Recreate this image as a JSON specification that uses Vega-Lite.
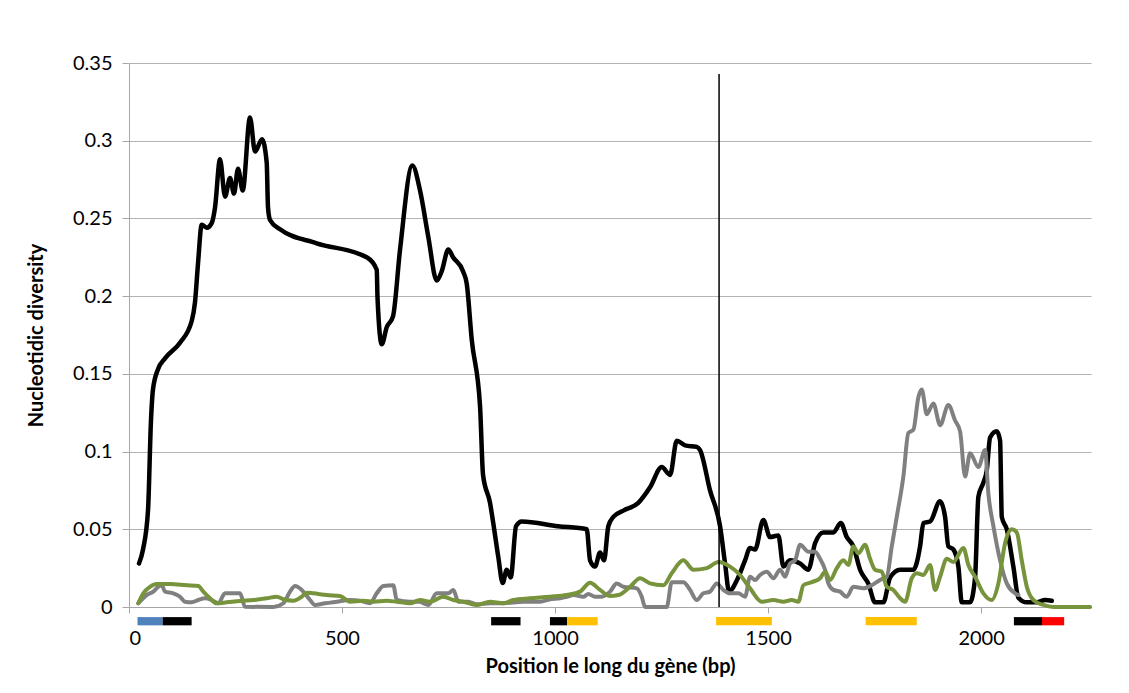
{
  "$schema": "https://vega.github.io/schema/vega-lite/v6.json",
  "width": 962,
  "height": 544,
  "autosize": "none",
  "padding": {"left": 129, "top": 63, "right": 38, "bottom": 86},
  "background": "white",
  "config": {
    "view": {"stroke": null},
    "font": "Lato",
    "axis": {
      "labelFont": "Lato",
      "titleFont": "Lato",
      "labelColor": "#000000",
      "titleColor": "#000000",
      "labelFontSize": 20,
      "titleFontSize": 20,
      "titleFontWeight": "bold",
      "domainColor": "#a6a6a6",
      "tickColor": "#a6a6a6",
      "gridColor": "#b3b3b3"
    }
  },
  "datasets": {
    "curves": [
      {"s": "black", "pos": 23.5, "div": 0.028},
      {"s": "black", "pos": 32.9, "div": 0.037},
      {"s": "black", "pos": 44.6, "div": 0.062},
      {"s": "black", "pos": 51.6, "div": 0.12},
      {"s": "black", "pos": 56.3, "div": 0.14},
      {"s": "black", "pos": 68.1, "div": 0.153},
      {"s": "black", "pos": 84.5, "div": 0.16},
      {"s": "black", "pos": 119.7, "div": 0.17},
      {"s": "black", "pos": 147.2, "div": 0.184},
      {"s": "black", "pos": 154.9, "div": 0.196},
      {"s": "black", "pos": 162.0, "div": 0.221},
      {"s": "black", "pos": 170.7, "div": 0.246},
      {"s": "black", "pos": 182.4, "div": 0.244},
      {"s": "black", "pos": 194.1, "div": 0.247},
      {"s": "black", "pos": 201.9, "div": 0.257},
      {"s": "black", "pos": 213.6, "div": 0.288},
      {"s": "black", "pos": 225.4, "div": 0.264},
      {"s": "black", "pos": 237.1, "div": 0.276},
      {"s": "black", "pos": 246.5, "div": 0.266},
      {"s": "black", "pos": 255.9, "div": 0.282},
      {"s": "black", "pos": 266.9, "div": 0.268},
      {"s": "black", "pos": 284.0, "div": 0.315},
      {"s": "black", "pos": 295.8, "div": 0.293},
      {"s": "black", "pos": 312.2, "div": 0.301},
      {"s": "black", "pos": 323.2, "div": 0.286},
      {"s": "black", "pos": 326.3, "div": 0.257},
      {"s": "black", "pos": 331.0, "div": 0.249},
      {"s": "black", "pos": 354.5, "div": 0.243},
      {"s": "black", "pos": 440.6, "div": 0.234},
      {"s": "black", "pos": 558.0, "div": 0.225},
      {"s": "black", "pos": 581.5, "div": 0.217},
      {"s": "black", "pos": 583.3, "div": 0.199},
      {"s": "black", "pos": 593.2, "div": 0.169},
      {"s": "black", "pos": 604.9, "div": 0.18},
      {"s": "black", "pos": 619.7, "div": 0.187},
      {"s": "black", "pos": 636.2, "div": 0.23},
      {"s": "black", "pos": 665.0, "div": 0.284},
      {"s": "black", "pos": 683.1, "div": 0.268},
      {"s": "black", "pos": 702.6, "div": 0.238},
      {"s": "black", "pos": 722.3, "div": 0.21},
      {"s": "black", "pos": 734.0, "div": 0.216},
      {"s": "black", "pos": 749.5, "div": 0.23},
      {"s": "black", "pos": 760.6, "div": 0.225},
      {"s": "black", "pos": 784.0, "div": 0.216},
      {"s": "black", "pos": 792.7, "div": 0.208},
      {"s": "black", "pos": 804.5, "div": 0.172},
      {"s": "black", "pos": 824.0, "div": 0.129},
      {"s": "black", "pos": 831.0, "div": 0.085},
      {"s": "black", "pos": 847.4, "div": 0.067},
      {"s": "black", "pos": 855.0, "div": 0.054},
      {"s": "black", "pos": 866.9, "div": 0.032},
      {"s": "black", "pos": 877.2, "div": 0.0154},
      {"s": "black", "pos": 886.6, "div": 0.024},
      {"s": "black", "pos": 896.0, "div": 0.019},
      {"s": "black", "pos": 908.5, "div": 0.052},
      {"s": "black", "pos": 921.8, "div": 0.055},
      {"s": "black", "pos": 1007.0, "div": 0.052},
      {"s": "black", "pos": 1074.4, "div": 0.05},
      {"s": "black", "pos": 1082.2, "div": 0.03},
      {"s": "black", "pos": 1093.9, "div": 0.026},
      {"s": "black", "pos": 1105.6, "div": 0.035},
      {"s": "black", "pos": 1115.0, "div": 0.03},
      {"s": "black", "pos": 1125.1, "div": 0.052},
      {"s": "black", "pos": 1136.9, "div": 0.058},
      {"s": "black", "pos": 1160.3, "div": 0.062},
      {"s": "black", "pos": 1195.5, "div": 0.067},
      {"s": "black", "pos": 1223.0, "div": 0.077},
      {"s": "black", "pos": 1250.5, "div": 0.09},
      {"s": "black", "pos": 1270.0, "div": 0.085},
      {"s": "black", "pos": 1285.7, "div": 0.107},
      {"s": "black", "pos": 1305.2, "div": 0.104},
      {"s": "black", "pos": 1332.6, "div": 0.103},
      {"s": "black", "pos": 1340.4, "div": 0.101},
      {"s": "black", "pos": 1363.8, "div": 0.075},
      {"s": "black", "pos": 1387.3, "div": 0.052},
      {"s": "black", "pos": 1399.1, "div": 0.028},
      {"s": "black", "pos": 1408.5, "div": 0.01},
      {"s": "black", "pos": 1426.5, "div": 0.017},
      {"s": "black", "pos": 1446.0, "div": 0.03},
      {"s": "black", "pos": 1457.7, "div": 0.038},
      {"s": "black", "pos": 1469.5, "div": 0.037},
      {"s": "black", "pos": 1488.9, "div": 0.056},
      {"s": "black", "pos": 1504.7, "div": 0.045},
      {"s": "black", "pos": 1524.2, "div": 0.046},
      {"s": "black", "pos": 1535.9, "div": 0.026},
      {"s": "black", "pos": 1551.6, "div": 0.03},
      {"s": "black", "pos": 1575.1, "div": 0.028},
      {"s": "black", "pos": 1594.6, "div": 0.024},
      {"s": "black", "pos": 1610.3, "div": 0.041},
      {"s": "black", "pos": 1629.8, "div": 0.048},
      {"s": "black", "pos": 1653.3, "div": 0.048},
      {"s": "black", "pos": 1670.7, "div": 0.054},
      {"s": "black", "pos": 1684.7, "div": 0.045},
      {"s": "black", "pos": 1700.2, "div": 0.039},
      {"s": "black", "pos": 1716.0, "div": 0.024},
      {"s": "black", "pos": 1735.4, "div": 0.015},
      {"s": "black", "pos": 1751.2, "div": 0.003},
      {"s": "black", "pos": 1770.7, "div": 0.003},
      {"s": "black", "pos": 1786.4, "div": 0.019},
      {"s": "black", "pos": 1809.9, "div": 0.024},
      {"s": "black", "pos": 1841.1, "div": 0.024},
      {"s": "black", "pos": 1856.8, "div": 0.039},
      {"s": "black", "pos": 1864.6, "div": 0.054},
      {"s": "black", "pos": 1880.3, "div": 0.055},
      {"s": "black", "pos": 1903.8, "div": 0.068},
      {"s": "black", "pos": 1915.5, "div": 0.058},
      {"s": "black", "pos": 1923.2, "div": 0.039},
      {"s": "black", "pos": 1935.0, "div": 0.037},
      {"s": "black", "pos": 1946.7, "div": 0.026},
      {"s": "black", "pos": 1954.7, "div": 0.003},
      {"s": "black", "pos": 1974.2, "div": 0.003},
      {"s": "black", "pos": 1985.9, "div": 0.019},
      {"s": "black", "pos": 1993.7, "div": 0.071},
      {"s": "black", "pos": 2005.4, "div": 0.08},
      {"s": "black", "pos": 2013.4, "div": 0.088},
      {"s": "black", "pos": 2021.1, "div": 0.109},
      {"s": "black", "pos": 2036.9, "div": 0.113},
      {"s": "black", "pos": 2044.6, "div": 0.107},
      {"s": "black", "pos": 2048.6, "div": 0.058},
      {"s": "black", "pos": 2060.3, "div": 0.05},
      {"s": "black", "pos": 2075.8, "div": 0.026},
      {"s": "black", "pos": 2087.6, "div": 0.006},
      {"s": "black", "pos": 2107.3, "div": 0.003},
      {"s": "black", "pos": 2130.8, "div": 0.003},
      {"s": "black", "pos": 2150.2, "div": 0.0045},
      {"s": "black", "pos": 2166.0, "div": 0.004},

      {"s": "gray", "pos": 21.8, "div": 0.0024},
      {"s": "gray", "pos": 41.5, "div": 0.0077},
      {"s": "gray", "pos": 57.0, "div": 0.0099},
      {"s": "gray", "pos": 68.8, "div": 0.013},
      {"s": "gray", "pos": 76.8, "div": 0.014},
      {"s": "gray", "pos": 84.5, "div": 0.0099},
      {"s": "gray", "pos": 104.0, "div": 0.0088},
      {"s": "gray", "pos": 119.7, "div": 0.0066},
      {"s": "gray", "pos": 131.5, "div": 0.0034},
      {"s": "gray", "pos": 147.2, "div": 0.003},
      {"s": "gray", "pos": 162.7, "div": 0.0045},
      {"s": "gray", "pos": 178.4, "div": 0.0056},
      {"s": "gray", "pos": 194.1, "div": 0.0045},
      {"s": "gray", "pos": 209.6, "div": 0.0024},
      {"s": "gray", "pos": 225.4, "div": 0.0088},
      {"s": "gray", "pos": 260.6, "div": 0.0088},
      {"s": "gray", "pos": 272.3, "div": 0.0002},
      {"s": "gray", "pos": 338.7, "div": 0.0},
      {"s": "gray", "pos": 362.2, "div": 0.0024},
      {"s": "gray", "pos": 377.9, "div": 0.0099},
      {"s": "gray", "pos": 389.7, "div": 0.0135},
      {"s": "gray", "pos": 405.4, "div": 0.011},
      {"s": "gray", "pos": 424.9, "div": 0.0045},
      {"s": "gray", "pos": 436.6, "div": 0.0013},
      {"s": "gray", "pos": 460.1, "div": 0.0024},
      {"s": "gray", "pos": 487.6, "div": 0.0034},
      {"s": "gray", "pos": 518.8, "div": 0.0045},
      {"s": "gray", "pos": 542.3, "div": 0.004},
      {"s": "gray", "pos": 565.7, "div": 0.0024},
      {"s": "gray", "pos": 581.5, "div": 0.0088},
      {"s": "gray", "pos": 597.0, "div": 0.0135},
      {"s": "gray", "pos": 620.4, "div": 0.014},
      {"s": "gray", "pos": 628.4, "div": 0.0045},
      {"s": "gray", "pos": 659.6, "div": 0.0034},
      {"s": "gray", "pos": 683.1, "div": 0.0034},
      {"s": "gray", "pos": 690.8, "div": 0.0024},
      {"s": "gray", "pos": 702.8, "div": 0.0013},
      {"s": "gray", "pos": 722.3, "div": 0.0088},
      {"s": "gray", "pos": 749.5, "div": 0.0088},
      {"s": "gray", "pos": 761.3, "div": 0.011},
      {"s": "gray", "pos": 773.0, "div": 0.0034},
      {"s": "gray", "pos": 796.5, "div": 0.0034},
      {"s": "gray", "pos": 816.2, "div": 0.0017},
      {"s": "gray", "pos": 847.4, "div": 0.0024},
      {"s": "gray", "pos": 878.6, "div": 0.0024},
      {"s": "gray", "pos": 925.6, "div": 0.0034},
      {"s": "gray", "pos": 964.8, "div": 0.0034},
      {"s": "gray", "pos": 988.3, "div": 0.005},
      {"s": "gray", "pos": 1011.7, "div": 0.0056},
      {"s": "gray", "pos": 1027.5, "div": 0.0066},
      {"s": "gray", "pos": 1043.0, "div": 0.0077},
      {"s": "gray", "pos": 1066.4, "div": 0.0066},
      {"s": "gray", "pos": 1078.2, "div": 0.0084},
      {"s": "gray", "pos": 1093.9, "div": 0.0066},
      {"s": "gray", "pos": 1109.6, "div": 0.0066},
      {"s": "gray", "pos": 1129.1, "div": 0.0099},
      {"s": "gray", "pos": 1144.8, "div": 0.0152},
      {"s": "gray", "pos": 1160.3, "div": 0.013},
      {"s": "gray", "pos": 1191.8, "div": 0.012},
      {"s": "gray", "pos": 1203.5, "div": 0.0066},
      {"s": "gray", "pos": 1211.3, "div": 0.0},
      {"s": "gray", "pos": 1262.2, "div": 0.0},
      {"s": "gray", "pos": 1273.9, "div": 0.016},
      {"s": "gray", "pos": 1301.2, "div": 0.016},
      {"s": "gray", "pos": 1316.9, "div": 0.011},
      {"s": "gray", "pos": 1332.6, "div": 0.0045},
      {"s": "gray", "pos": 1348.1, "div": 0.0088},
      {"s": "gray", "pos": 1363.8, "div": 0.0099},
      {"s": "gray", "pos": 1379.6, "div": 0.0152},
      {"s": "gray", "pos": 1395.1, "div": 0.011},
      {"s": "gray", "pos": 1410.8, "div": 0.0088},
      {"s": "gray", "pos": 1430.3, "div": 0.0088},
      {"s": "gray", "pos": 1446.0, "div": 0.0066},
      {"s": "gray", "pos": 1457.7, "div": 0.0195},
      {"s": "gray", "pos": 1469.5, "div": 0.0174},
      {"s": "gray", "pos": 1481.2, "div": 0.0206},
      {"s": "gray", "pos": 1496.9, "div": 0.0227},
      {"s": "gray", "pos": 1512.4, "div": 0.0185},
      {"s": "gray", "pos": 1528.2, "div": 0.024},
      {"s": "gray", "pos": 1539.9, "div": 0.0195},
      {"s": "gray", "pos": 1551.6, "div": 0.028},
      {"s": "gray", "pos": 1563.4, "div": 0.03},
      {"s": "gray", "pos": 1575.1, "div": 0.04},
      {"s": "gray", "pos": 1594.6, "div": 0.0356},
      {"s": "gray", "pos": 1610.3, "div": 0.0356},
      {"s": "gray", "pos": 1622.1, "div": 0.031},
      {"s": "gray", "pos": 1633.8, "div": 0.024},
      {"s": "gray", "pos": 1641.5, "div": 0.0152},
      {"s": "gray", "pos": 1653.3, "div": 0.011},
      {"s": "gray", "pos": 1669.0, "div": 0.0099},
      {"s": "gray", "pos": 1684.7, "div": 0.0066},
      {"s": "gray", "pos": 1700.2, "div": 0.013},
      {"s": "gray", "pos": 1723.7, "div": 0.012},
      {"s": "gray", "pos": 1743.4, "div": 0.014},
      {"s": "gray", "pos": 1762.9, "div": 0.0174},
      {"s": "gray", "pos": 1778.6, "div": 0.0195},
      {"s": "gray", "pos": 1790.4, "div": 0.039},
      {"s": "gray", "pos": 1802.1, "div": 0.058},
      {"s": "gray", "pos": 1817.6, "div": 0.084},
      {"s": "gray", "pos": 1829.3, "div": 0.112},
      {"s": "gray", "pos": 1841.1, "div": 0.114},
      {"s": "gray", "pos": 1852.8, "div": 0.135},
      {"s": "gray", "pos": 1860.8, "div": 0.14},
      {"s": "gray", "pos": 1872.5, "div": 0.124},
      {"s": "gray", "pos": 1888.0, "div": 0.131},
      {"s": "gray", "pos": 1903.8, "div": 0.117},
      {"s": "gray", "pos": 1923.2, "div": 0.13},
      {"s": "gray", "pos": 1939.0, "div": 0.12},
      {"s": "gray", "pos": 1950.7, "div": 0.113},
      {"s": "gray", "pos": 1962.4, "div": 0.084},
      {"s": "gray", "pos": 1974.2, "div": 0.099},
      {"s": "gray", "pos": 1993.7, "div": 0.09},
      {"s": "gray", "pos": 2009.4, "div": 0.101},
      {"s": "gray", "pos": 2017.1, "div": 0.073},
      {"s": "gray", "pos": 2028.9, "div": 0.052},
      {"s": "gray", "pos": 2044.6, "div": 0.03},
      {"s": "gray", "pos": 2060.3, "div": 0.0152},
      {"s": "gray", "pos": 2079.8, "div": 0.0088},
      {"s": "gray", "pos": 2087.6, "div": 0.0077},

      {"s": "green", "pos": 21.8, "div": 0.0024},
      {"s": "green", "pos": 33.6, "div": 0.0088},
      {"s": "green", "pos": 49.3, "div": 0.013},
      {"s": "green", "pos": 65.0, "div": 0.0148},
      {"s": "green", "pos": 96.2, "div": 0.0148},
      {"s": "green", "pos": 135.4, "div": 0.014},
      {"s": "green", "pos": 162.7, "div": 0.0135},
      {"s": "green", "pos": 174.4, "div": 0.0099},
      {"s": "green", "pos": 190.1, "div": 0.0056},
      {"s": "green", "pos": 205.9, "div": 0.0024},
      {"s": "green", "pos": 229.3, "div": 0.003},
      {"s": "green", "pos": 260.6, "div": 0.0039},
      {"s": "green", "pos": 291.8, "div": 0.0045},
      {"s": "green", "pos": 323.2, "div": 0.0056},
      {"s": "green", "pos": 346.7, "div": 0.0066},
      {"s": "green", "pos": 362.2, "div": 0.005},
      {"s": "green", "pos": 385.7, "div": 0.004},
      {"s": "green", "pos": 405.4, "div": 0.0066},
      {"s": "green", "pos": 417.1, "div": 0.0092},
      {"s": "green", "pos": 432.6, "div": 0.0088},
      {"s": "green", "pos": 464.1, "div": 0.0077},
      {"s": "green", "pos": 495.3, "div": 0.0071},
      {"s": "green", "pos": 518.8, "div": 0.0034},
      {"s": "green", "pos": 550.0, "div": 0.004},
      {"s": "green", "pos": 573.5, "div": 0.0034},
      {"s": "green", "pos": 604.9, "div": 0.004},
      {"s": "green", "pos": 628.4, "div": 0.0034},
      {"s": "green", "pos": 659.6, "div": 0.0024},
      {"s": "green", "pos": 683.1, "div": 0.0045},
      {"s": "green", "pos": 706.6, "div": 0.0034},
      {"s": "green", "pos": 737.8, "div": 0.0066},
      {"s": "green", "pos": 761.3, "div": 0.0045},
      {"s": "green", "pos": 784.7, "div": 0.0034},
      {"s": "green", "pos": 816.2, "div": 0.0013},
      {"s": "green", "pos": 847.4, "div": 0.0034},
      {"s": "green", "pos": 878.6, "div": 0.0024},
      {"s": "green", "pos": 902.1, "div": 0.0045},
      {"s": "green", "pos": 941.3, "div": 0.0056},
      {"s": "green", "pos": 988.3, "div": 0.0066},
      {"s": "green", "pos": 1027.5, "div": 0.0077},
      {"s": "green", "pos": 1058.7, "div": 0.0099},
      {"s": "green", "pos": 1082.2, "div": 0.0156},
      {"s": "green", "pos": 1105.6, "div": 0.011},
      {"s": "green", "pos": 1129.1, "div": 0.0071},
      {"s": "green", "pos": 1148.6, "div": 0.0077},
      {"s": "green", "pos": 1176.1, "div": 0.013},
      {"s": "green", "pos": 1199.5, "div": 0.0185},
      {"s": "green", "pos": 1223.0, "div": 0.0152},
      {"s": "green", "pos": 1254.2, "div": 0.014},
      {"s": "green", "pos": 1273.9, "div": 0.0217},
      {"s": "green", "pos": 1301.2, "div": 0.03},
      {"s": "green", "pos": 1324.6, "div": 0.024},
      {"s": "green", "pos": 1356.1, "div": 0.025},
      {"s": "green", "pos": 1383.3, "div": 0.029},
      {"s": "green", "pos": 1410.8, "div": 0.026},
      {"s": "green", "pos": 1434.3, "div": 0.0206},
      {"s": "green", "pos": 1457.7, "div": 0.012},
      {"s": "green", "pos": 1485.2, "div": 0.0034},
      {"s": "green", "pos": 1512.4, "div": 0.0045},
      {"s": "green", "pos": 1535.9, "div": 0.0034},
      {"s": "green", "pos": 1555.6, "div": 0.0045},
      {"s": "green", "pos": 1571.1, "div": 0.0034},
      {"s": "green", "pos": 1582.9, "div": 0.014},
      {"s": "green", "pos": 1602.6, "div": 0.016},
      {"s": "green", "pos": 1622.1, "div": 0.0185},
      {"s": "green", "pos": 1633.8, "div": 0.0227},
      {"s": "green", "pos": 1645.5, "div": 0.0174},
      {"s": "green", "pos": 1661.3, "div": 0.025},
      {"s": "green", "pos": 1676.8, "div": 0.03},
      {"s": "green", "pos": 1688.5, "div": 0.027},
      {"s": "green", "pos": 1700.2, "div": 0.039},
      {"s": "green", "pos": 1712.0, "div": 0.0346},
      {"s": "green", "pos": 1727.7, "div": 0.04},
      {"s": "green", "pos": 1739.4, "div": 0.031},
      {"s": "green", "pos": 1751.2, "div": 0.024},
      {"s": "green", "pos": 1766.9, "div": 0.0227},
      {"s": "green", "pos": 1778.6, "div": 0.013},
      {"s": "green", "pos": 1794.1, "div": 0.011},
      {"s": "green", "pos": 1809.9, "div": 0.0056},
      {"s": "green", "pos": 1821.6, "div": 0.0034},
      {"s": "green", "pos": 1837.3, "div": 0.0185},
      {"s": "green", "pos": 1849.1, "div": 0.0217},
      {"s": "green", "pos": 1864.6, "div": 0.0206},
      {"s": "green", "pos": 1880.3, "div": 0.027},
      {"s": "green", "pos": 1892.0, "div": 0.011},
      {"s": "green", "pos": 1903.8, "div": 0.0195},
      {"s": "green", "pos": 1919.5, "div": 0.031},
      {"s": "green", "pos": 1935.0, "div": 0.029},
      {"s": "green", "pos": 1958.5, "div": 0.038},
      {"s": "green", "pos": 1970.2, "div": 0.027},
      {"s": "green", "pos": 1985.9, "div": 0.0195},
      {"s": "green", "pos": 2005.4, "div": 0.0088},
      {"s": "green", "pos": 2025.1, "div": 0.0045},
      {"s": "green", "pos": 2040.6, "div": 0.0152},
      {"s": "green", "pos": 2056.3, "div": 0.041},
      {"s": "green", "pos": 2072.1, "div": 0.05},
      {"s": "green", "pos": 2083.8, "div": 0.048},
      {"s": "green", "pos": 2095.5, "div": 0.03},
      {"s": "green", "pos": 2107.3, "div": 0.013},
      {"s": "green", "pos": 2122.8, "div": 0.0045},
      {"s": "green", "pos": 2146.2, "div": 0.0013},
      {"s": "green", "pos": 2169.7, "div": 0.0},
      {"s": "green", "pos": 2256.0, "div": 0.0}
    ],
    "features": [
      {"kind": "bleu", "start": 20, "end": 79},
      {"kind": "noir", "start": 79, "end": 147},
      {"kind": "noir", "start": 850, "end": 919},
      {"kind": "noir", "start": 988, "end": 1028},
      {"kind": "jaune", "start": 1028, "end": 1100},
      {"kind": "jaune", "start": 1378, "end": 1509},
      {"kind": "jaune", "start": 1729, "end": 1849},
      {"kind": "noir", "start": 2077, "end": 2143},
      {"kind": "rouge", "start": 2143, "end": 2195}
    ],
    "marker": [
      {"pos": 1385, "base": 0, "top": 0.343}
    ]
  },
  "layer": [
    {
      "data": {"name": "curves"},
      "transform": [{"filter": "datum.s === 'black'"}],
      "mark": {"type": "line", "interpolate": "monotone", "strokeWidth": 4.5, "color": "#000000", "strokeJoin": "round", "strokeCap": "round"},
      "encoding": {
        "x": {
          "field": "pos",
          "type": "quantitative",
          "scale": {"domain": [0, 2258], "nice": false, "zero": false},
          "axis": {
            "title": "Position le long du gène (bp)",
            "values": [0, 500, 1000, 1500, 2000],
            "grid": false,
            "tickSize": 6,
            "labelPadding": 15,
            "titlePadding": 8,
            "format": "d"
          }
        },
        "y": {
          "field": "div",
          "type": "quantitative",
          "scale": {"domain": [0, 0.35], "nice": false},
          "axis": {
            "title": "Nucleotidic diversity",
            "values": [0, 0.05, 0.1, 0.15, 0.2, 0.25, 0.3, 0.35],
            "format": "~g",
            "grid": true,
            "tickSize": 7,
            "labelPadding": 10,
            "titlePadding": 26
          }
        }
      }
    },
    {
      "data": {"name": "curves"},
      "transform": [{"filter": "datum.s === 'gray'"}],
      "mark": {"type": "line", "interpolate": "monotone", "strokeWidth": 4, "color": "#808080", "strokeJoin": "round", "strokeCap": "round"},
      "encoding": {"x": {"field": "pos", "type": "quantitative"}, "y": {"field": "div", "type": "quantitative"}}
    },
    {
      "data": {"name": "curves"},
      "transform": [{"filter": "datum.s === 'green'"}],
      "mark": {"type": "line", "interpolate": "monotone", "strokeWidth": 4, "color": "#77933C", "strokeJoin": "round", "strokeCap": "round"},
      "encoding": {"x": {"field": "pos", "type": "quantitative"}, "y": {"field": "div", "type": "quantitative"}}
    },
    {
      "data": {"name": "marker"},
      "mark": {"type": "rule", "color": "#000000", "strokeWidth": 1.5},
      "encoding": {"x": {"field": "pos", "type": "quantitative"}, "y": {"field": "base", "type": "quantitative"}, "y2": {"field": "top"}}
    },
    {
      "data": {"name": "features"},
      "mark": {"type": "rect"},
      "encoding": {
        "x": {"field": "start", "type": "quantitative"},
        "x2": {"field": "end"},
        "y": {"datum": -0.0065, "type": "quantitative"},
        "y2": {"datum": -0.0118},
        "color": {
          "field": "kind",
          "type": "nominal",
          "scale": {"domain": ["bleu", "noir", "jaune", "rouge"], "range": ["#4F81BD", "#000000", "#FFC000", "#FF0000"]},
          "legend": null
        }
      }
    }
  ]
}
